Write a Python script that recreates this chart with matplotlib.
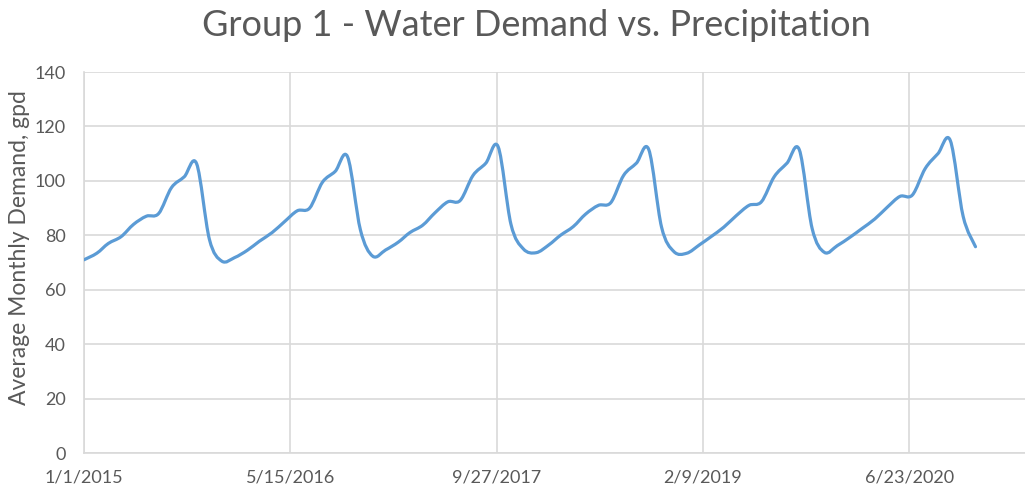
import numpy as np
import pandas as pd
import matplotlib
matplotlib.use("Agg")
import matplotlib.pyplot as plt
import matplotlib.dates as mdates
from matplotlib.path import Path
from matplotlib.patches import PathPatch

# monthly average demand, Jan 2015 - Dec 2020
start = "2015-01-01"
n_months = 72
demand = [
    71.0, 73.4, 77.0, 79.5, 84.0, 87.0, 88.0, 97.5, 101.5, 106.3, 78.5, 70.5,
    71.8, 74.5, 77.8, 81.0, 85.0, 89.0, 90.0, 99.5, 103.5, 108.8, 82.0, 72.3,
    74.6, 77.5, 81.0, 83.7, 88.3, 92.3, 92.8, 102.0, 106.5, 112.5, 84.0, 75.0,
    73.6, 76.5, 80.0, 83.2, 87.8, 91.0, 92.0, 102.0, 106.5, 111.5, 83.0, 74.0,
    73.4, 76.5, 79.5, 83.0, 87.2, 91.0, 92.3, 101.5, 106.5, 111.4, 82.5, 73.7,
    76.2, 79.3, 82.5, 86.0, 90.3, 94.3, 94.8, 104.5, 110.0, 114.8, 87.0, 75.8,
]
tick_labels = ["1/1/2015", "5/15/2016", "9/27/2017", "2/9/2019", "6/23/2020"]
yticks = [0, 20, 40, 60, 80, 100, 120, 140]

grey = "#595959"
grid = "#d9d9d9"
blue = "#5b9bd5"
plt.rcParams["font.family"] = ["Lato", "DejaVu Sans"]

months = pd.date_range(start, periods=n_months, freq="MS")
x = mdates.date2num(months.to_pydatetime())
y = np.array(demand)

fig = plt.figure(figsize=(10.25, 4.9), dpi=100)
ax = fig.add_axes([84 / 1025, 1 - 453 / 490, 1 - 84 / 1025, (453 - 72) / 490])

# smoothed line like excel (catmull-rom as cubic bezier)
verts = [(x[0], y[0])]
codes = [Path.MOVETO]
for i in range(len(x) - 1):
    x0, y0 = (x[i - 1], y[i - 1]) if i > 0 else (x[i], y[i])
    x3, y3 = (x[i + 2], y[i + 2]) if i + 2 < len(x) else (x[i + 1], y[i + 1])
    c1 = (x[i] + (x[i + 1] - x0) / 6, y[i] + (y[i + 1] - y0) / 6)
    c2 = (x[i + 1] - (x3 - x[i]) / 6, y[i + 1] - (y3 - y[i]) / 6)
    verts += [c1, c2, (x[i + 1], y[i + 1])]
    codes += [Path.CURVE4] * 3
ax.add_patch(PathPatch(Path(verts, codes), fill=False, edgecolor=blue,
                       lw=2.3, capstyle="round", joinstyle="round", zorder=3))

tick_dates = pd.to_datetime(tick_labels, format="%m/%d/%Y")
tx = mdates.date2num(tick_dates.to_pydatetime())
ax.set_xlim(tx[0], tx[0] + 2281)
ax.set_ylim(0, 140)
ax.set_xticks(tx)
ax.set_xticklabels(tick_labels)
ax.set_yticks(yticks)
ax.grid(True, color=grid, lw=1.2)
ax.set_axisbelow(True)
for s in ["top", "right"]:
    ax.spines[s].set_visible(False)
for s in ["left", "bottom"]:
    ax.spines[s].set_color(grid)
    ax.spines[s].set_linewidth(1.2)
ax.tick_params(length=0, colors=grey, labelsize=13)
ax.tick_params(axis="x", pad=12)
ax.tick_params(axis="y", pad=13)

fig.text(536.5 / 1025, 1 - 36 / 490, "Group 1 - Water Demand vs. Precipitation",
         ha="center", va="baseline", fontsize=26, color=grey)
fig.text(20 / 1025, 1 - 248 / 490, "Average Monthly Demand, gpd", rotation=90,
         ha="center", va="center", fontsize=16.5, color=grey)

fig.savefig("out.png", dpi=100)
